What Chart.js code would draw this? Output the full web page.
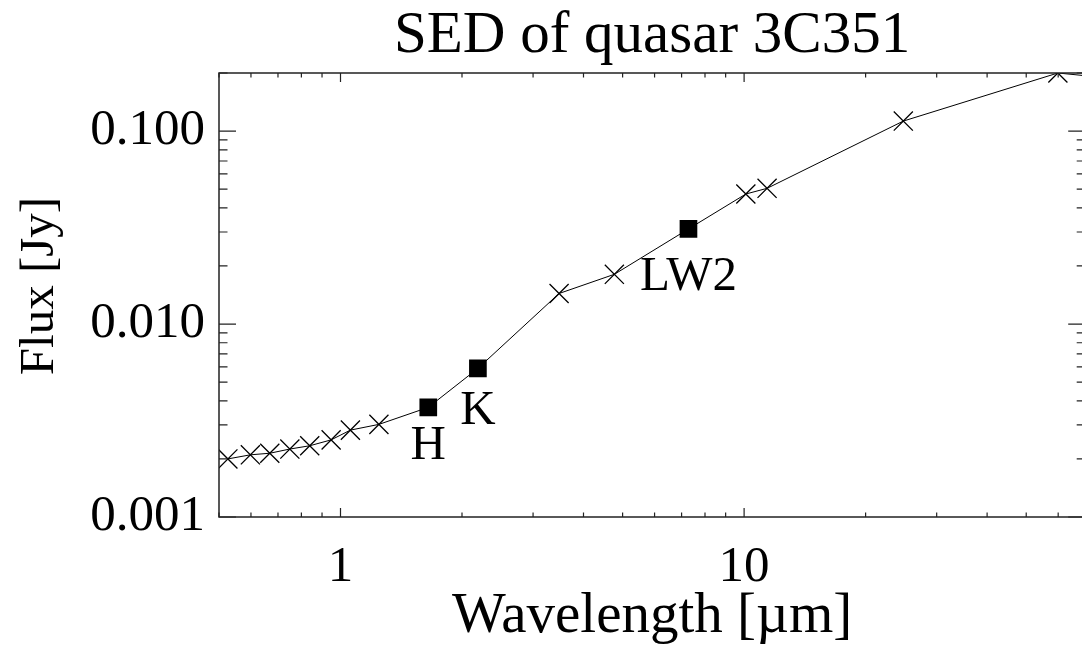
<!DOCTYPE html>
<html><head><meta charset="utf-8">
<script src="https://cdn.jsdelivr.net/npm/chart.js@4.4.0/dist/chart.umd.min.js"></script>
<style>
html,body{margin:0;padding:0;background:#fff;overflow:hidden;width:1082px;height:648px}
#wrap{position:absolute;left:0;top:0;width:1100px;height:648px}
</style></head>
<body><div id="wrap"><canvas id="c" width="1100" height="648"></canvas></div>
<script>
// ---- data ----
const titleText = 'SED of quasar 3C351';
const xAxisLabel = 'Wavelength [\u00b5m]';
const yAxisLabel = 'Flux [Jy]';
const crossWavelength = [0.526, 0.598, 0.668, 0.749, 0.839, 0.948, 1.058, 1.245, 3.48, 4.77, 10.1, 11.4, 24.8, 59.9, 100];
const crossFlux       = [0.00200, 0.00210, 0.00214, 0.00225, 0.00234, 0.00251, 0.00282, 0.00302, 0.0144, 0.0181, 0.0472, 0.0505, 0.1127, 0.200, 0.180];
const bandNames       = ['H', 'K', 'LW2'];
const bandWavelength  = [1.65, 2.19, 7.28];
const bandFlux        = [0.00370, 0.00589, 0.0311];
const xTickValues = [1, 10];
const yTickValues = [0.001, 0.01, 0.1];
const xRange = [0.5, 70];
const yRange = [0.001, 0.2];

// ---- styling (not data) ----
const SERIF = '"Liberation Serif", "Times New Roman", serif';
const bandLabelOffsetPx = [52, 56, 61];

const crossPts = crossWavelength.map((x, i) => ({x, y: crossFlux[i]}));
const bandPts = bandWavelength.map((x, i) => ({x, y: bandFlux[i]}));
const linePts = crossPts.concat(bandPts).sort((a, b) => a.x - b.x);

function minorTicks(min, max) {
  const out = [];
  for (let e = Math.floor(Math.log10(min)); e <= Math.ceil(Math.log10(max)); e++) {
    for (let k = 1; k <= 9; k++) {
      const v = k * Math.pow(10, e);
      if (v >= min * 0.9999 && v <= max * 1.0001) out.push({v, major: k === 1});
    }
  }
  return out;
}

const framePlugin = {
  id: 'frame',
  afterDraw(chart) {
    const {ctx, chartArea: a, scales: {x, y}} = chart;
    ctx.save();
    ctx.strokeStyle = '#222';
    ctx.lineWidth = 1.5;
    ctx.strokeRect(a.left, a.top, a.right - a.left, a.bottom - a.top);
    ctx.beginPath();
    const xMaj = 9, xMin = 4.5, yMaj = 17, yMin = 8.5;
    minorTicks(xRange[0], xRange[1]).forEach(t => {
      const px = x.getPixelForValue(t.v);
      const L = t.major ? xMaj : xMin;
      ctx.moveTo(px, a.bottom); ctx.lineTo(px, a.bottom - L);
      ctx.moveTo(px, a.top); ctx.lineTo(px, a.top + L);
    });
    minorTicks(yRange[0], yRange[1]).forEach(t => {
      const py = y.getPixelForValue(t.v);
      const L = t.major ? yMaj : yMin;
      ctx.moveTo(a.left, py); ctx.lineTo(a.left + L, py);
      ctx.moveTo(a.right, py); ctx.lineTo(a.right - L, py);
    });
    ctx.lineWidth = 1.2;
    ctx.stroke();
    // band labels
    ctx.fillStyle = '#000';
    ctx.font = '49px ' + SERIF;
    ctx.textAlign = 'center';
    ctx.textBaseline = 'alphabetic';
    bandNames.forEach((n, i) => {
      const px = x.getPixelForValue(bandWavelength[i]);
      const py = y.getPixelForValue(bandFlux[i]);
      ctx.fillText(n, px, py + bandLabelOffsetPx[i]);
    });
    // y axis title (rotated)
    ctx.font = '49px ' + SERIF;
    ctx.translate(53, (a.top + a.bottom) / 2 - 9);
    ctx.rotate(-Math.PI / 2);
    ctx.textAlign = 'center';
    ctx.fillText(yAxisLabel, 0, 0);
    ctx.restore();
  }
};

new Chart(document.getElementById('c'), {
  type: 'scatter',
  data: {
    datasets: [
      {data: linePts, showLine: true, borderColor: '#000', borderWidth: 1, pointRadius: 0, clip: 0},
      {data: crossPts, showLine: false, pointStyle: 'crossRot', pointRadius: 13.5, borderColor: '#000', borderWidth: 1.3, clip: 0},
      {data: bandPts, showLine: false, pointStyle: 'rect', pointRadius: 12.5, backgroundColor: '#000', borderColor: '#000', borderWidth: 0, clip: 0}
    ]
  },
  options: {
    responsive: false, animation: false, devicePixelRatio: 1,
    layout: {padding: {top: 0, right: 9, left: 0, bottom: 0}},
    plugins: {
      legend: {display: false}, tooltip: {enabled: false},
      title: {display: true, text: titleText, fullSize: false, color: '#000',
        font: {family: SERIF, size: 59, weight: 'normal', lineHeight: 1},
        padding: {top: 6.5, bottom: 7.5}}
    },
    scales: {
      x: {
        type: 'logarithmic', min: xRange[0], max: xRange[1],
        grid: {display: false, drawTicks: false}, border: {display: false},
        afterBuildTicks: s => { s.ticks = xTickValues.map(v => ({value: v})); },
        afterFit: s => { s.height = 131; },
        ticks: {color: '#000', font: {family: SERIF, size: 51}, padding: 20, maxRotation: 0, autoSkip: false,
          callback: v => String(v)},
        title: {display: true, text: xAxisLabel, color: '#000', font: {family: SERIF, size: 57, lineHeight: 1.1}, padding: {top: 0, bottom: 0}}
      },
      y: {
        type: 'logarithmic', min: yRange[0], max: yRange[1],
        grid: {display: false, drawTicks: false}, border: {display: false},
        afterBuildTicks: s => { s.ticks = yTickValues.map(v => ({value: v})); },
        afterFit: s => { s.width = 219; },
        ticks: {color: '#000', font: {family: SERIF, size: 51}, padding: 14, autoSkip: false,
          callback: v => Number(v).toFixed(3)},
        title: {display: false}
      }
    }
  },
  plugins: [framePlugin]
});
</script>
</body></html>
